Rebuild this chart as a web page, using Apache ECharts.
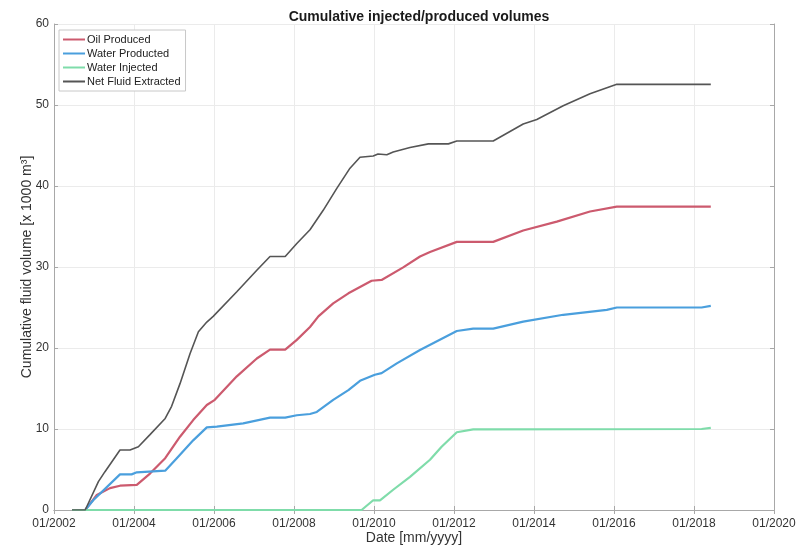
<!DOCTYPE html>
<html>
<head>
<meta charset="utf-8">
<script src="https://cdn.jsdelivr.net/npm/echarts@6/dist/echarts.min.js"></script>
<style>
html,body{margin:0;padding:0;background:#fff;}
#chart{width:799px;height:547px;}
</style>
</head>
<body>
<div id="chart"></div>
<script>
// Decimal years and values (x 1000 m^3)
const seriesNames = ['Oil Produced', 'Water Producted', 'Water Injected', 'Net Fluid Extracted'];
const xTicks = [2002, 2004, 2006, 2008, 2010, 2012, 2014, 2016, 2018, 2020];

const oilYears = [2002.45, 2002.78, 2003.07, 2003.4, 2003.65, 2004.07, 2004.4, 2004.78, 2005.15, 2005.48, 2005.82, 2006.02, 2006.57, 2007.07, 2007.4, 2007.78, 2008.07, 2008.4, 2008.61, 2008.98, 2009.36, 2009.94, 2010.19, 2010.73, 2011.15, 2011.4, 2012.07, 2012.98, 2013.73, 2014.57, 2015.4, 2016.07, 2018.42];
const oilValues = [0, 0, 1.85, 2.7, 3.0, 3.1, 4.5, 6.4, 9.05, 11.1, 12.96, 13.6, 16.5, 18.7, 19.8, 19.8, 21.0, 22.6, 23.9, 25.5, 26.75, 28.3, 28.4, 29.95, 31.3, 31.85, 33.1, 33.1, 34.5, 35.6, 36.85, 37.45, 37.45];

const waterProdYears = [2002.45, 2002.78, 2002.98, 2003.65, 2003.94, 2004.07, 2004.78, 2005.07, 2005.48, 2005.82, 2006.07, 2006.73, 2007.4, 2007.78, 2008.07, 2008.4, 2008.57, 2008.98, 2009.36, 2009.65, 2010.02, 2010.19, 2010.57, 2011.15, 2012.07, 2012.48, 2012.98, 2013.73, 2014.73, 2015.82, 2016.07, 2018.19, 2018.42];
const waterProdValues = [0, 0, 1.2, 4.4, 4.4, 4.65, 4.85, 6.4, 8.6, 10.2, 10.3, 10.7, 11.4, 11.4, 11.7, 11.85, 12.1, 13.6, 14.8, 15.95, 16.7, 16.9, 18.1, 19.75, 22.1, 22.4, 22.4, 23.25, 24.1, 24.7, 25.0, 25.0, 25.2];

const waterInjYears = [2002.45, 2009.69, 2009.98, 2010.15, 2010.48, 2010.9, 2011.4, 2011.69, 2012.07, 2012.48, 2018.19, 2018.42];
const waterInjValues = [0, 0, 1.2, 1.2, 2.5, 4.1, 6.2, 7.8, 9.6, 9.95, 10.0, 10.15];

const netYears = [2002.45, 2002.78, 2003.11, 2003.27, 2003.65, 2003.9, 2004.11, 2004.4, 2004.78, 2004.94, 2005.15, 2005.4, 2005.61, 2005.82, 2005.98, 2006.57, 2007.07, 2007.4, 2007.78, 2008.07, 2008.4, 2008.73, 2009.07, 2009.4, 2009.65, 2009.98, 2010.1, 2010.32, 2010.48, 2010.9, 2011.36, 2011.86, 2012.07, 2012.98, 2013.73, 2014.07, 2014.73, 2015.4, 2016.07, 2018.42];
const netValues = [0, 0, 3.5, 4.7, 7.4, 7.4, 7.8, 9.3, 11.3, 12.8, 15.6, 19.3, 22.0, 23.2, 23.9, 26.95, 29.6, 31.3, 31.3, 32.9, 34.6, 37.0, 39.7, 42.2, 43.55, 43.7, 43.95, 43.85, 44.2, 44.75, 45.2, 45.2, 45.55, 45.55, 47.65, 48.2, 49.9, 51.4, 52.55, 52.55];

const colors = ['#CC5A6E', '#4A9FDD', '#7FDCAA', '#555555'];

function pairs(xs, ys) { return xs.map((x, i) => [x, ys[i]]); }
const allData = [
  pairs(oilYears, oilValues),
  pairs(waterProdYears, waterProdValues),
  pairs(waterInjYears, waterInjValues),
  pairs(netYears, netValues)
];

const font = 'Liberation Sans, Arial, Helvetica, sans-serif';
const chart = echarts.init(document.getElementById('chart'), null, {renderer: 'canvas'});
const gridLine = {show: true, lineStyle: {color: '#ebebeb', width: 1}};
const axisLineStyle = {show: true, lineStyle: {color: '#a8a8a8', width: 1}};

chart.setOption({
  animation: false,
  backgroundColor: '#ffffff',
  textStyle: {fontFamily: font},
  title: {
    text: 'Cumulative injected/produced volumes',
    left: 414, top: 5, textAlign: 'center',
    textStyle: {fontSize: 14, fontWeight: 'bold', color: '#1a1a1a', fontFamily: font}
  },
  legend: {
    orient: 'vertical',
    left: 59, top: 30,
    padding: [4, 5, 4, 3],
    itemGap: 3,
    itemWidth: 22, itemHeight: 10,
    backgroundColor: '#ffffff',
    borderColor: '#c8c8c8', borderWidth: 1,
    itemStyle: {opacity: 0},
    textStyle: {fontSize: 11, color: '#222', fontFamily: font, padding: [0, 0, 0, -3]},
    data: seriesNames
  },
  grid: {left: 54, right: 25, top: 24, bottom: 37, containLabel: false, outerBoundsMode: 'none'},
  xAxis: [{
    type: 'value', min: xTicks[0], max: xTicks[xTicks.length - 1], interval: 2,
    name: 'Date [mm/yyyy]', nameLocation: 'middle', nameGap: 21, nameMoveOverlap: false,
    nameTextStyle: {fontSize: 14, color: '#333', fontFamily: font},
    axisLine: axisLineStyle,
    axisTick: {show: true, inside: true, length: 4, lineStyle: {color: '#a8a8a8'}},
    axisLabel: {fontSize: 12, color: '#333', margin: 8, formatter: v => '01/' + v, fontFamily: font},
    splitLine: gridLine
  }, {
    type: 'value', position: 'top', min: xTicks[0], max: xTicks[xTicks.length - 1], interval: 2,
    axisLine: axisLineStyle,
    axisTick: {show: true, inside: true, length: 4, lineStyle: {color: '#a8a8a8'}},
    axisLabel: {show: false}, splitLine: {show: false}
  }],
  yAxis: [{
    type: 'value', min: 0, max: 60, interval: 10,
    name: 'Cumulative fluid volume [x 1000 m³]', nameLocation: 'middle', nameGap: 20, nameMoveOverlap: false,
    nameTextStyle: {fontSize: 14, color: '#333', fontFamily: font},
    axisLine: axisLineStyle,
    axisTick: {show: true, inside: true, length: 4, lineStyle: {color: '#a8a8a8'}},
    axisLabel: {fontSize: 12, color: '#333', margin: 5, fontFamily: font},
    splitLine: gridLine
  }, {
    type: 'value', position: 'right', min: 0, max: 60, interval: 10,
    axisLine: axisLineStyle,
    axisTick: {show: true, inside: true, length: 4, lineStyle: {color: '#a8a8a8'}},
    axisLabel: {show: false}, splitLine: {show: false}
  }],
  series: seriesNames.map((name, i) => ({
    name: name,
    type: 'line',
    data: allData[i],
    symbol: 'none',
    showSymbol: false,
    color: colors[i],
    lineStyle: {color: colors[i], width: i === 3 ? 1.6 : 2.2},
    z: 2 + i
  }))
});
</script>
</body>
</html>
